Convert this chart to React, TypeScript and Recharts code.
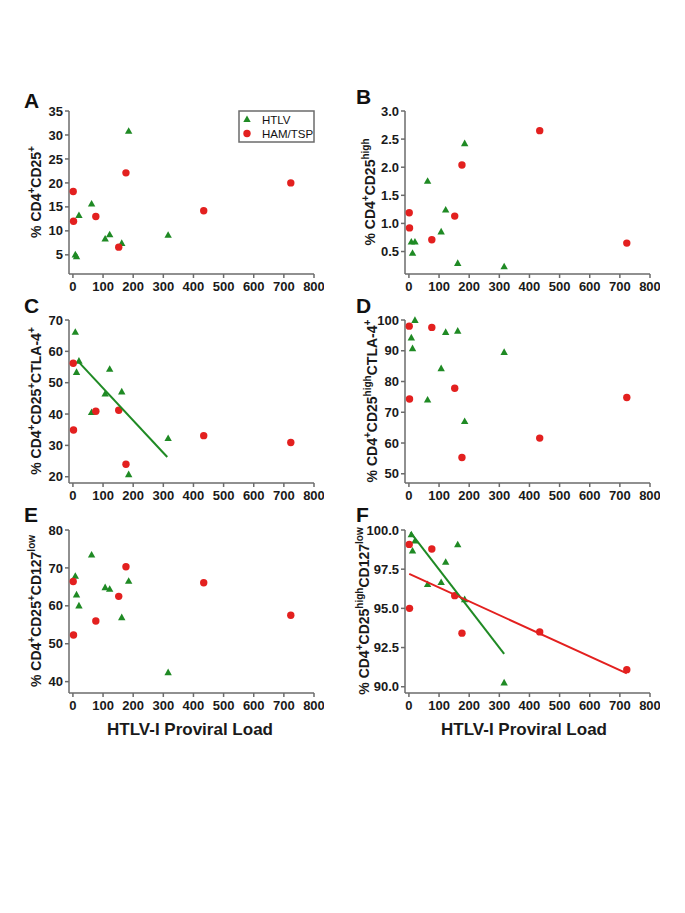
import { ScatterChart, Scatter, XAxis, YAxis } from 'recharts';

// proviral load (x) for each group
const htlvLoad = [8, 12, 20, 62, 107, 122, 162, 185, 316];
const hamLoad = [1, 2, 76, 152, 176, 434, 723];
const loadTicks = [0, 100, 200, 300, 400, 500, 600, 700, 800];

// A: % CD4+CD25+
const cd25Htlv = [5.0, 4.6, 13.2, 15.6, 8.3, 9.2, 7.4, 30.8, 9.1];
const cd25Ham = [18.2, 12.0, 13.0, 6.6, 22.1, 14.2, 20.0];
// B: % CD4+CD25high
const cd25hiHtlv = [0.67, 0.47, 0.67, 1.75, 0.85, 1.24, 0.29, 2.42, 0.23];
const cd25hiHam = [1.19, 0.92, 0.71, 1.13, 2.04, 2.65, 0.65];
// C: % CD4+CD25+CTLA-4+
const ctla4Htlv = [66.1, 53.3, 56.9, 40.5, 46.4, 54.3, 47.1, 20.7, 32.2];
const ctla4Ham = [56.2, 34.9, 40.9, 41.2, 24.0, 33.1, 30.9];
const ctla4FitLoad = [18, 313];
const ctla4FitHtlv = [56.7, 26.3];
// D: % CD4+CD25highCTLA-4+
const ctla4hiHtlv = [94.2, 90.7, 99.9, 74.0, 84.2, 96.0, 96.4, 67.0, 89.5];
const ctla4hiHam = [98.0, 74.3, 97.6, 77.8, 55.3, 61.6, 74.8];
// E: % CD4+CD25+CD127low
const cd127Htlv = [67.8, 62.9, 60.0, 73.4, 64.8, 64.4, 56.9, 66.5, 42.4];
const cd127Ham = [66.4, 52.3, 56.0, 62.5, 70.3, 66.1, 57.5];
// F: % CD4+CD25highCD127low
const cd127hiHtlv = [99.7, 98.66, 99.3, 96.53, 96.65, 97.95, 99.06, 95.56, 90.25];
const cd127hiHam = [99.08, 95.0, 98.79, 95.81, 93.42, 93.5, 91.09];
const cd127hiHtlvFitLoad = [5, 316];
const cd127hiHtlvFit = [99.85, 92.1];
const cd127hiHamFitLoad = [1, 723];
const cd127hiHamFit = [97.2, 90.85];

const GREEN = '#1f8a24';
const RED = '#e3201f';
const AXIS = '#6b6b6b';
const FONT = '"Liberation Sans", Arial, sans-serif';

const toPoints = (xs: number[], ys: number[]) => xs.map((x, i) => ({ x, y: ys[i] }));

const Triangle = (props: any) => {
  const { cx, cy } = props;
  return <polygon points={`${cx},${cy - 4} ${cx - 3.7},${cy + 2.6} ${cx + 3.7},${cy + 2.6}`} fill={GREEN} />;
};
const RedDot = (props: any) => <circle cx={props.cx} cy={props.cy} r={3.7} fill={RED} />;
const NoDot = () => <g />;

type Fit = { xs: number[]; ys: number[]; color: string };
type Panel = {
  left: number;
  top: number;
  yDomain: [number, number];
  yTicks: number[];
  decimals: number;
  htlv: number[];
  ham: number[];
  fits: Fit[];
};

const panels: Panel[] = [
  { left: 0, top: 101, yDomain: [1, 35], yTicks: [5, 10, 15, 20, 25, 30, 35], decimals: 0, htlv: cd25Htlv, ham: cd25Ham, fits: [] },
  { left: 336, top: 101, yDomain: [0.1, 3.0], yTicks: [0.5, 1.0, 1.5, 2.0, 2.5, 3.0], decimals: 1, htlv: cd25hiHtlv, ham: cd25hiHam, fits: [] },
  {
    left: 0, top: 310, yDomain: [18, 70], yTicks: [20, 30, 40, 50, 60, 70], decimals: 0, htlv: ctla4Htlv, ham: ctla4Ham,
    fits: [{ xs: ctla4FitLoad, ys: ctla4FitHtlv, color: GREEN }],
  },
  { left: 336, top: 310, yDomain: [47, 100], yTicks: [50, 60, 70, 80, 90, 100], decimals: 0, htlv: ctla4hiHtlv, ham: ctla4hiHam, fits: [] },
  { left: 0, top: 520, yDomain: [37, 80], yTicks: [40, 50, 60, 70, 80], decimals: 0, htlv: cd127Htlv, ham: cd127Ham, fits: [] },
  {
    left: 336, top: 520, yDomain: [89.6, 100], yTicks: [90, 92.5, 95, 97.5, 100], decimals: 1, htlv: cd127hiHtlv, ham: cd127hiHam,
    fits: [
      { xs: cd127hiHtlvFitLoad, ys: cd127hiHtlvFit, color: GREEN },
      { xs: cd127hiHamFitLoad, ys: cd127hiHamFit, color: RED },
    ],
  },
];

const axisLine = { stroke: AXIS, strokeWidth: 1.5 };
const tickStyle = { fill: '#1a1a1a', fontSize: 13, fontWeight: 'bold', fontFamily: FONT };

const PanelChart = ({ p }: { p: Panel }) => (
  <div style={{ position: 'absolute', left: p.left, top: p.top }}>
    <ScatterChart width={324} height={203} margin={{ top: 10, right: 10, bottom: 0, left: 0 }}>
      <XAxis
        type="number"
        dataKey="x"
        domain={[-13, 800]}
        ticks={loadTicks}
        interval={0}
        height={30}
        tickSize={4}
        tickMargin={4}
        axisLine={axisLine}
        tickLine={axisLine}
        tick={tickStyle}
      />
      <YAxis
        type="number"
        dataKey="y"
        domain={p.yDomain}
        ticks={p.yTicks}
        interval={0}
        width={69}
        tickSize={4}
        tickMargin={2}
        axisLine={axisLine}
        tickLine={axisLine}
        tick={tickStyle}
        tickFormatter={(v: number) => v.toFixed(p.decimals)}
      />
      <Scatter data={toPoints(htlvLoad, p.htlv)} shape={Triangle} isAnimationActive={false} />
      <Scatter data={toPoints(hamLoad, p.ham)} shape={RedDot} isAnimationActive={false} />
      {p.fits.map((f, i) => (
        <Scatter
          key={i}
          data={toPoints(f.xs, f.ys)}
          line={{ stroke: f.color, strokeWidth: 2 }}
          shape={NoDot}
          isAnimationActive={false}
        />
      ))}
    </ScatterChart>
  </div>
);

// y-axis titles: [text, superscript?]
type Seg = [string, boolean];
const titles: { cx: number; cy: number; segs: Seg[] }[] = [
  { cx: 36, cy: 192, segs: [['% CD4', false], ['+', true], ['CD25', false], ['+', true]] },
  { cx: 370, cy: 192, segs: [['% CD4', false], ['+', true], ['CD25', false], ['high', true]] },
  { cx: 36, cy: 401, segs: [['% CD4', false], ['+', true], ['CD25', false], ['+', true], ['CTLA-4', false], ['+', true]] },
  { cx: 372, cy: 401, segs: [['% CD4', false], ['+', true], ['CD25', false], ['high', true], ['CTLA-4', false], ['+', true]] },
  { cx: 36, cy: 611, segs: [['% CD4', false], ['+', true], ['CD25', false], ['+', true], ['CD127', false], ['low', true]] },
  { cx: 364, cy: 611, segs: [['% CD4', false], ['+', true], ['CD25', false], ['high', true], ['CD127', false], ['low', true]] },
];

const letters = [
  { t: 'A', x: 24, y: 108 },
  { t: 'B', x: 356, y: 104 },
  { t: 'C', x: 24, y: 313 },
  { t: 'D', x: 356, y: 313 },
  { t: 'E', x: 24, y: 522 },
  { t: 'F', x: 356, y: 522 },
];

const RotTitle = ({ cx, cy, segs }: { cx: number; cy: number; segs: Seg[] }) => {
  let shift = 0;
  return (
    <text
      x={cx}
      y={cy + 5}
      transform={`rotate(-90 ${cx} ${cy})`}
      textAnchor="middle"
      fontFamily={FONT}
      fontWeight="bold"
      fontSize={14}
      fill="#1a1a1a"
    >
      {segs.map(([s, sup], i) => {
        const target = sup ? -6 : 0;
        const dy = target - shift;
        shift = target;
        return (
          <tspan key={i} dy={dy} fontSize={sup ? 10 : 14}>
            {s}
          </tspan>
        );
      })}
    </text>
  );
};

export default function App() {
  return (
    <div style={{ position: 'absolute', left: 0, top: 0, width: 685, height: 913, background: '#fff' }}>
      {panels.map((p, i) => (
        <PanelChart key={i} p={p} />
      ))}
      <svg width={685} height={913} style={{ position: 'absolute', left: 0, top: 0, pointerEvents: 'none' }}>
        {letters.map((l) => (
          <text key={l.t} x={l.x} y={l.y} fontFamily={FONT} fontWeight="bold" fontSize={21} fill="#111">
            {l.t}
          </text>
        ))}
        {titles.map((t, i) => (
          <RotTitle key={i} {...t} />
        ))}
        <text x={190} y={735} textAnchor="middle" fontFamily={FONT} fontWeight="bold" fontSize={17} fill="#1a1a1a">
          HTLV-I Proviral Load
        </text>
        <text x={524} y={735} textAnchor="middle" fontFamily={FONT} fontWeight="bold" fontSize={17} fill="#1a1a1a">
          HTLV-I Proviral Load
        </text>
        {/* legend */}
        <rect x={239} y={111} width={75} height={31} fill="#fff" stroke={AXIS} strokeWidth={1.5} />
        <Triangle cx={247} cy={119.5} />
        <text x={262} y={123.5} fontFamily={FONT} fontSize={11.5} fill="#111">
          HTLV
        </text>
        <RedDot cx={247} cy={133.5} />
        <text x={262} y={137.5} fontFamily={FONT} fontSize={11.5} fill="#111">
          HAM/TSP
        </text>
      </svg>
    </div>
  );
}
